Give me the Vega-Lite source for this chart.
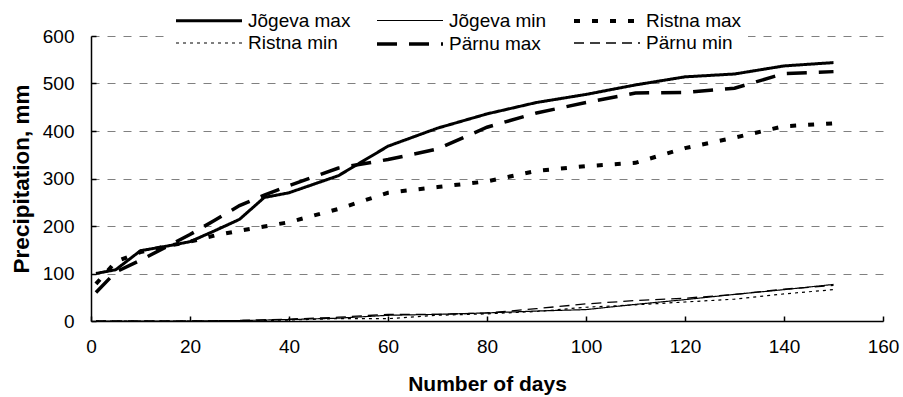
{
  "$schema": "https://vega.github.io/schema/vega-lite/v6.json",
  "width": 792,
  "height": 285,
  "autosize": {"type": "none"},
  "padding": {"left": 91, "top": 36, "right": 20, "bottom": 76},
  "background": "white",
  "config": {"view": {"stroke": null}, "font": "Liberation Sans"},
  "datasets": {
    "d": [
      {"series": "Jõgeva max", "day": 1, "value": 100},
      {"series": "Jõgeva max", "day": 5, "value": 108},
      {"series": "Jõgeva max", "day": 10, "value": 148},
      {"series": "Jõgeva max", "day": 15, "value": 157},
      {"series": "Jõgeva max", "day": 20, "value": 167},
      {"series": "Jõgeva max", "day": 25, "value": 190},
      {"series": "Jõgeva max", "day": 30, "value": 214},
      {"series": "Jõgeva max", "day": 35, "value": 260},
      {"series": "Jõgeva max", "day": 40, "value": 270},
      {"series": "Jõgeva max", "day": 50, "value": 306},
      {"series": "Jõgeva max", "day": 60, "value": 368},
      {"series": "Jõgeva max", "day": 70, "value": 406},
      {"series": "Jõgeva max", "day": 80, "value": 436},
      {"series": "Jõgeva max", "day": 90, "value": 460},
      {"series": "Jõgeva max", "day": 100, "value": 477},
      {"series": "Jõgeva max", "day": 110, "value": 497},
      {"series": "Jõgeva max", "day": 120, "value": 514},
      {"series": "Jõgeva max", "day": 130, "value": 520},
      {"series": "Jõgeva max", "day": 140, "value": 537},
      {"series": "Jõgeva max", "day": 150, "value": 544},
      {"series": "Ristna max", "day": 1, "value": 78},
      {"series": "Ristna max", "day": 5, "value": 125},
      {"series": "Ristna max", "day": 10, "value": 145},
      {"series": "Ristna max", "day": 15, "value": 157},
      {"series": "Ristna max", "day": 20, "value": 167},
      {"series": "Ristna max", "day": 25, "value": 180},
      {"series": "Ristna max", "day": 30, "value": 190},
      {"series": "Ristna max", "day": 35, "value": 199},
      {"series": "Ristna max", "day": 40, "value": 208},
      {"series": "Ristna max", "day": 50, "value": 236},
      {"series": "Ristna max", "day": 60, "value": 270},
      {"series": "Ristna max", "day": 70, "value": 282},
      {"series": "Ristna max", "day": 80, "value": 294},
      {"series": "Ristna max", "day": 90, "value": 316},
      {"series": "Ristna max", "day": 100, "value": 326},
      {"series": "Ristna max", "day": 110, "value": 333},
      {"series": "Ristna max", "day": 120, "value": 364},
      {"series": "Ristna max", "day": 130, "value": 386},
      {"series": "Ristna max", "day": 140, "value": 410},
      {"series": "Ristna max", "day": 150, "value": 416},
      {"series": "Pärnu max", "day": 1, "value": 60},
      {"series": "Pärnu max", "day": 5, "value": 103},
      {"series": "Pärnu max", "day": 10, "value": 128},
      {"series": "Pärnu max", "day": 15, "value": 155},
      {"series": "Pärnu max", "day": 20, "value": 182},
      {"series": "Pärnu max", "day": 25, "value": 212},
      {"series": "Pärnu max", "day": 30, "value": 243},
      {"series": "Pärnu max", "day": 35, "value": 265},
      {"series": "Pärnu max", "day": 40, "value": 285},
      {"series": "Pärnu max", "day": 50, "value": 322},
      {"series": "Pärnu max", "day": 60, "value": 340},
      {"series": "Pärnu max", "day": 70, "value": 362},
      {"series": "Pärnu max", "day": 80, "value": 408},
      {"series": "Pärnu max", "day": 90, "value": 438},
      {"series": "Pärnu max", "day": 100, "value": 460},
      {"series": "Pärnu max", "day": 110, "value": 480},
      {"series": "Pärnu max", "day": 120, "value": 481},
      {"series": "Pärnu max", "day": 130, "value": 490},
      {"series": "Pärnu max", "day": 140, "value": 521},
      {"series": "Pärnu max", "day": 150, "value": 525},
      {"series": "Jõgeva min", "day": 1, "value": 0},
      {"series": "Jõgeva min", "day": 10, "value": 0},
      {"series": "Jõgeva min", "day": 20, "value": 0},
      {"series": "Jõgeva min", "day": 30, "value": 1},
      {"series": "Jõgeva min", "day": 40, "value": 3},
      {"series": "Jõgeva min", "day": 50, "value": 6},
      {"series": "Jõgeva min", "day": 60, "value": 12},
      {"series": "Jõgeva min", "day": 70, "value": 14},
      {"series": "Jõgeva min", "day": 80, "value": 17},
      {"series": "Jõgeva min", "day": 90, "value": 21},
      {"series": "Jõgeva min", "day": 100, "value": 24},
      {"series": "Jõgeva min", "day": 110, "value": 35},
      {"series": "Jõgeva min", "day": 120, "value": 45},
      {"series": "Jõgeva min", "day": 130, "value": 56},
      {"series": "Jõgeva min", "day": 140, "value": 66},
      {"series": "Jõgeva min", "day": 150, "value": 77},
      {"series": "Pärnu min", "day": 1, "value": 0},
      {"series": "Pärnu min", "day": 10, "value": 0},
      {"series": "Pärnu min", "day": 20, "value": 0},
      {"series": "Pärnu min", "day": 30, "value": 1},
      {"series": "Pärnu min", "day": 40, "value": 4},
      {"series": "Pärnu min", "day": 50, "value": 8},
      {"series": "Pärnu min", "day": 60, "value": 14},
      {"series": "Pärnu min", "day": 70, "value": 14},
      {"series": "Pärnu min", "day": 80, "value": 17},
      {"series": "Pärnu min", "day": 90, "value": 26},
      {"series": "Pärnu min", "day": 100, "value": 36},
      {"series": "Pärnu min", "day": 110, "value": 43},
      {"series": "Pärnu min", "day": 120, "value": 48},
      {"series": "Pärnu min", "day": 130, "value": 56},
      {"series": "Pärnu min", "day": 140, "value": 67},
      {"series": "Pärnu min", "day": 150, "value": 75},
      {"series": "Ristna min", "day": 1, "value": 0},
      {"series": "Ristna min", "day": 10, "value": 0},
      {"series": "Ristna min", "day": 20, "value": 0},
      {"series": "Ristna min", "day": 30, "value": 0},
      {"series": "Ristna min", "day": 40, "value": 2},
      {"series": "Ristna min", "day": 50, "value": 5},
      {"series": "Ristna min", "day": 60, "value": 5},
      {"series": "Ristna min", "day": 70, "value": 12},
      {"series": "Ristna min", "day": 80, "value": 15},
      {"series": "Ristna min", "day": 90, "value": 20},
      {"series": "Ristna min", "day": 100, "value": 29},
      {"series": "Ristna min", "day": 110, "value": 34},
      {"series": "Ristna min", "day": 120, "value": 40},
      {"series": "Ristna min", "day": 130, "value": 46},
      {"series": "Ristna min", "day": 140, "value": 57},
      {"series": "Ristna min", "day": 150, "value": 66}
    ]
  },
  "data": {"name": "d"},
  "mark": {"type": "line", "color": "black", "strokeCap": "butt"},
  "encoding": {
    "x": {
      "field": "day", "type": "quantitative",
      "scale": {"domain": [0, 160], "nice": false},
      "axis": {
        "values": [0, 20, 40, 60, 80, 100, 120, 140, 160],
        "grid": false, "tickSize": -5, "tickColor": "black", "tickWidth": 1.5,
        "domainColor": "black", "domainWidth": 1.5,
        "labelFontSize": 19, "labelColor": "black", "labelPadding": 21,
        "labelFlush": false, "labelOverlap": false,
        "title": "Number of days", "titleFontSize": 21, "titleFontWeight": "bold",
        "titleColor": "black", "titlePadding": 17
      }
    },
    "y": {
      "field": "value", "type": "quantitative",
      "scale": {"domain": [0, 600], "nice": false},
      "axis": {
        "values": [0, 100, 200, 300, 400, 500, 600],
        "grid": true, "gridDash": [8, 8], "gridColor": "#808080", "gridWidth": 1,
        "tickSize": -5, "tickColor": "black", "tickWidth": 1.5,
        "domainColor": "black", "domainWidth": 1.5,
        "labelFontSize": 19, "labelColor": "black", "labelPadding": 22,
        "labelFlush": false, "labelOverlap": false,
        "title": "Precipitation, mm", "titleFontSize": 22.5, "titleFontWeight": "bold",
        "titleColor": "black", "titlePadding": 9
      }
    },
    "strokeDash": {
      "field": "series", "type": "nominal",
      "scale": {
        "domain": ["Jõgeva max", "Jõgeva min", "Ristna max", "Ristna min", "Pärnu max", "Pärnu min"],
        "range": [[1, 0], [1, 0], [6, 12], [3, 4], [20, 12], [10, 6]]
      },
      "legend": {
        "title": null, "orient": "none", "legendX": 77, "legendY": -34,
        "direction": "horizontal",
        "columns": 3, "columnPadding": 19, "rowPadding": -2, "padding": 6,
        "fillColor": "white", "symbolType": "M-1,0H5", "symbolSize": 484,
        "symbolStrokeColor": "black", "symbolFillColor": "transparent",
        "labelFont": "Liberation Sans", "labelFontSize": 19, "labelColor": "black",
        "labelOffset": 48, "labelLimit": 0
      }
    },
    "strokeWidth": {
      "field": "series", "type": "nominal",
      "scale": {
        "type": "ordinal",
        "domain": ["Jõgeva max", "Jõgeva min", "Ristna max", "Ristna min", "Pärnu max", "Pärnu min"],
        "range": [3, 1.2, 4, 1.2, 3.5, 1.3]
      },
      "legend": {
        "title": null, "orient": "none", "legendX": 77, "legendY": -34,
        "direction": "horizontal",
        "columns": 3, "columnPadding": 19, "rowPadding": -2, "padding": 6,
        "fillColor": "white", "symbolType": "M-1,0H5", "symbolSize": 484,
        "symbolStrokeColor": "black", "symbolFillColor": "transparent",
        "labelFont": "Liberation Sans", "labelFontSize": 19, "labelColor": "black",
        "labelOffset": 48, "labelLimit": 0
      }
    }
  }
}
